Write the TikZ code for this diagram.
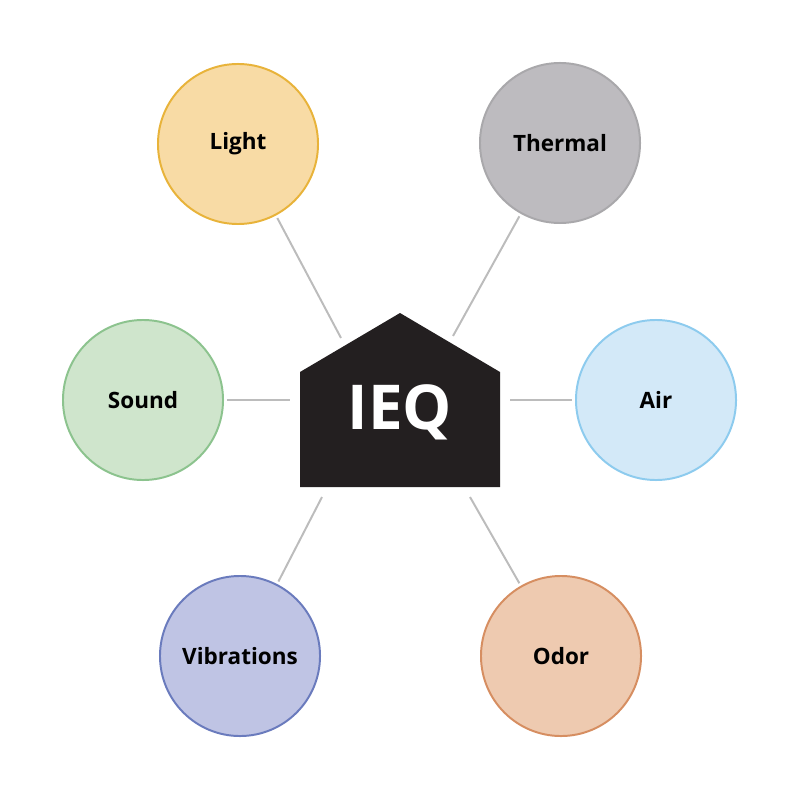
\documentclass[tikz,border=0pt]{standalone}
\usepackage{fontspec}
\setmainfont{Open Sans}
\usepackage{xcolor}
\usetikzlibrary{positioning}

\definecolor{lightfill}{HTML}{F8DBA5}
\definecolor{lightline}{HTML}{E8B33A}
\definecolor{thermfill}{HTML}{BDBBBF}
\definecolor{thermline}{HTML}{A9A8AB}
\definecolor{soundfill}{HTML}{CFE5CC}
\definecolor{soundline}{HTML}{8CC38E}
\definecolor{airfill}{HTML}{D3E9F8}
\definecolor{airline}{HTML}{8DCBEE}
\definecolor{vibfill}{HTML}{BFC4E4}
\definecolor{vibline}{HTML}{6A7BBD}
\definecolor{odorfill}{HTML}{EECAB0}
\definecolor{odorline}{HTML}{D68E61}
\definecolor{housecol}{HTML}{231F20}
\definecolor{linkgray}{HTML}{BCBCBC}

\begin{document}
\begin{tikzpicture}[
    x=0.025cm, y=-0.025cm,
    topic/.style={circle, draw, line width=1.4pt, minimum size=4cm, inner sep=0pt, align=center, font=\fontsize{16}{18}\selectfont\bfseries},
    link/.style={draw=linkgray, line width=1.4pt, shorten <=2pt}
]
\useasboundingbox (0,0) rectangle (800,800);

% house in the middle
\fill[housecol] (300,487) -- (300,372) -- (400,313) -- (500,372) -- (500,487) -- cycle;
\node[text=white, font=\fontsize{44}{48}\selectfont\bfseries] (ieq) at (400,412) {IEQ};

% the six topics
\node[topic, fill=lightfill, draw=lightline] (light) at (238,144) {Light};
\node[topic, fill=thermfill, draw=thermline] (thermal) at (560,143) {Thermal};
\node[topic, fill=soundfill, draw=soundline] (sound) at (143,400) {Sound};
\node[topic, fill=airfill, draw=airline] (air) at (656,400) {Air};
\node[topic, fill=vibfill, draw=vibline] (vibrations) at (240,656) {Vibrations};
\node[topic, fill=odorfill, draw=odorline] (odor) at (561,656) {Odor};

% ends of the links at the house
\coordinate (lightend) at (341,338);
\coordinate (thermalend) at (453,336);
\coordinate (soundend) at (290,400);
\coordinate (airend) at (510,400);
\coordinate (vibrationsend) at (322,497);
\coordinate (odorend) at (470,497);

\draw[link] (light) -- (lightend);
\draw[link] (thermal) -- (thermalend);
\draw[link] (sound) -- (soundend);
\draw[link] (air) -- (airend);
\draw[link] (vibrations) -- (vibrationsend);
\draw[link] (odor) -- (odorend);
\end{tikzpicture}
\end{document}
